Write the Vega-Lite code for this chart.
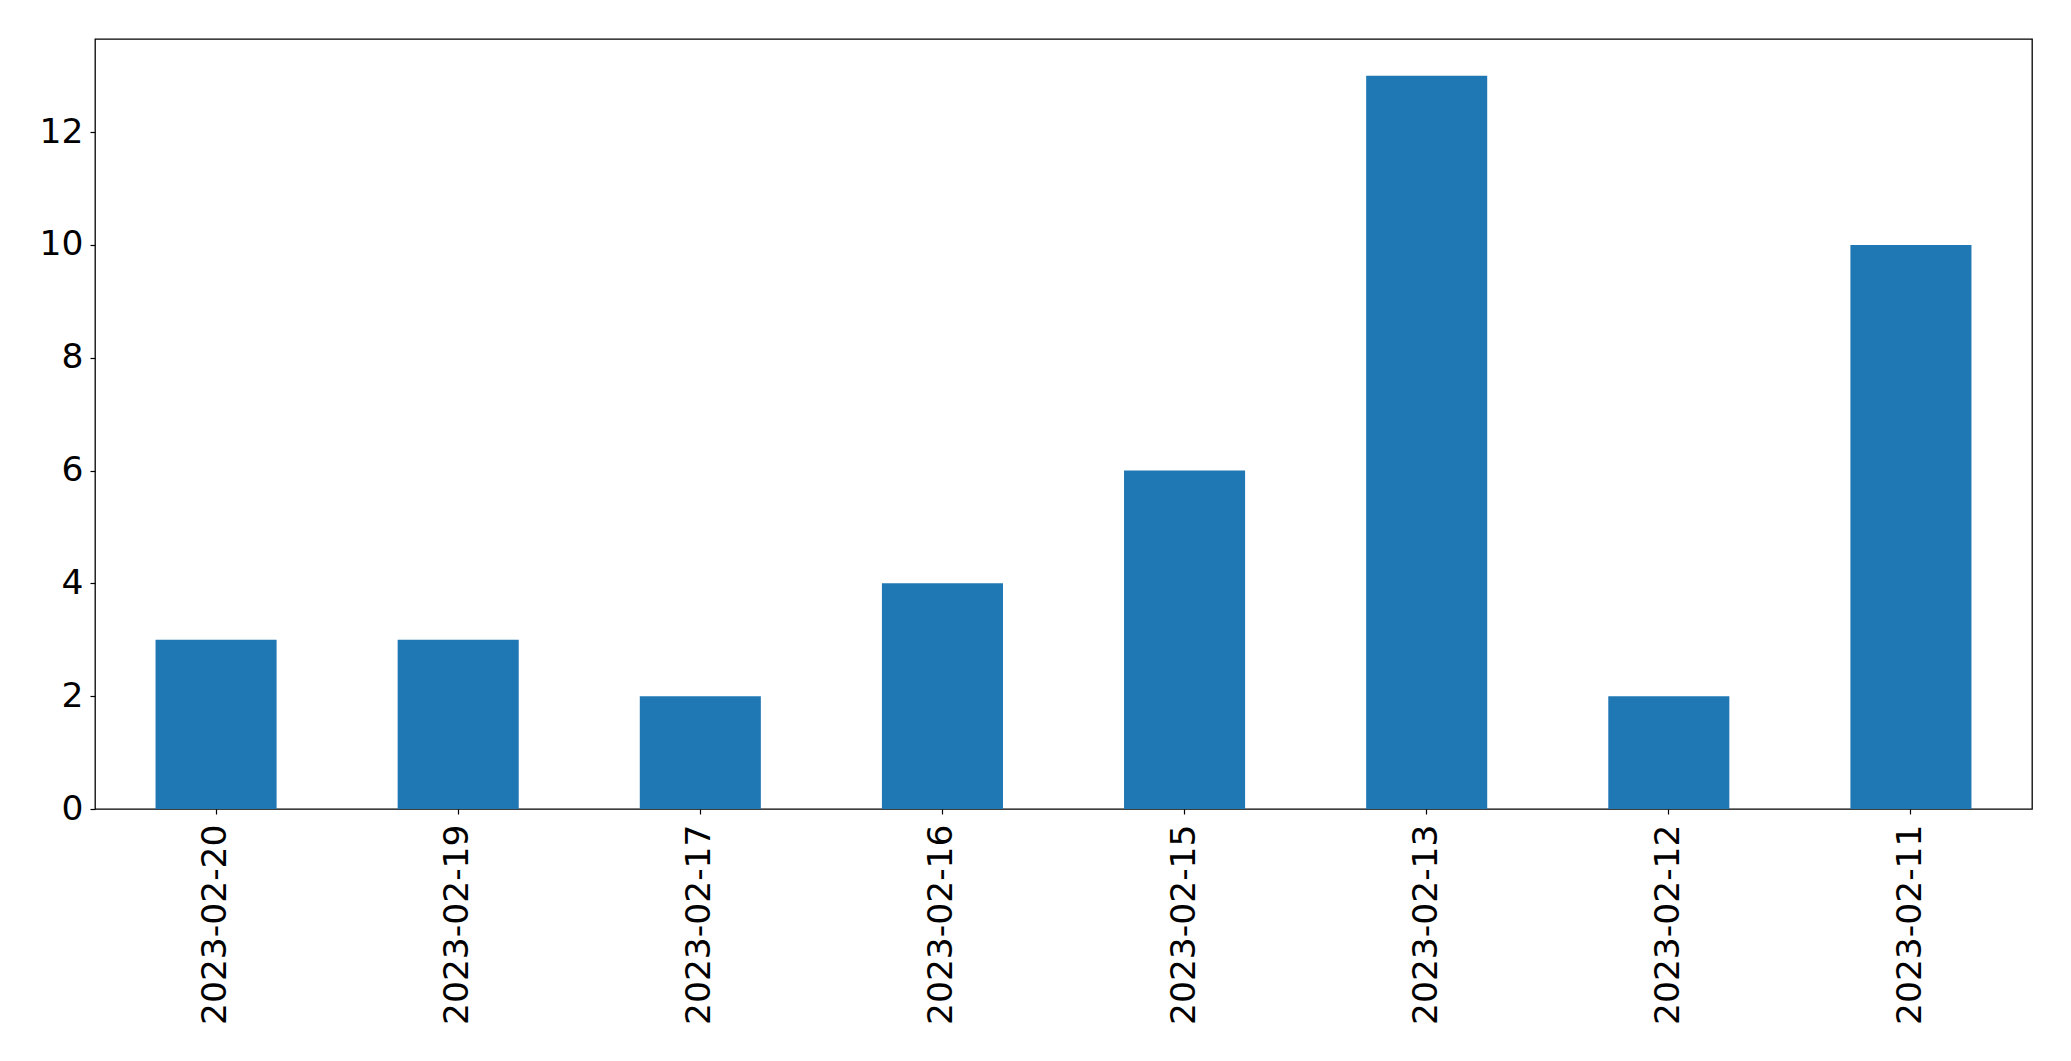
{
  "$schema": "https://vega.github.io/schema/vega-lite/v6.json",
  "width": 1937,
  "height": 770,
  "autosize": {"type": "none"},
  "padding": {"left": 95, "top": 39, "right": 39, "bottom": 252},
  "background": "white",
  "config": {
    "view": {"stroke": "black", "strokeWidth": 1.3},
    "axis": {
      "grid": false,
      "domain": false,
      "tickColor": "black",
      "tickSize": 5,
      "tickWidth": 1.2,
      "labelColor": "black",
      "labelFont": "DejaVu Sans",
      "labelFontSize": 34.5,
      "labelLimit": 0,
      "title": null
    }
  },
  "data": {
    "values": [
      {"date": "2023-02-20", "count": 3},
      {"date": "2023-02-19", "count": 3},
      {"date": "2023-02-17", "count": 2},
      {"date": "2023-02-16", "count": 4},
      {"date": "2023-02-15", "count": 6},
      {"date": "2023-02-13", "count": 13},
      {"date": "2023-02-12", "count": 2},
      {"date": "2023-02-11", "count": 10}
    ]
  },
  "mark": {"type": "bar", "color": "#1f77b4"},
  "encoding": {
    "x": {
      "field": "date",
      "type": "nominal",
      "sort": null,
      "scale": {"paddingInner": 0.5, "paddingOuter": 0.25},
      "axis": {"labelAngle": -90, "labelPadding": 10, "labelAlign": "right", "labelBaseline": "middle"}
    },
    "y": {
      "field": "count",
      "type": "quantitative",
      "scale": {"domain": [0, 13.65], "nice": false, "zero": true},
      "axis": {"values": [0, 2, 4, 6, 8, 10, 12], "labelPadding": 7}
    }
  }
}
